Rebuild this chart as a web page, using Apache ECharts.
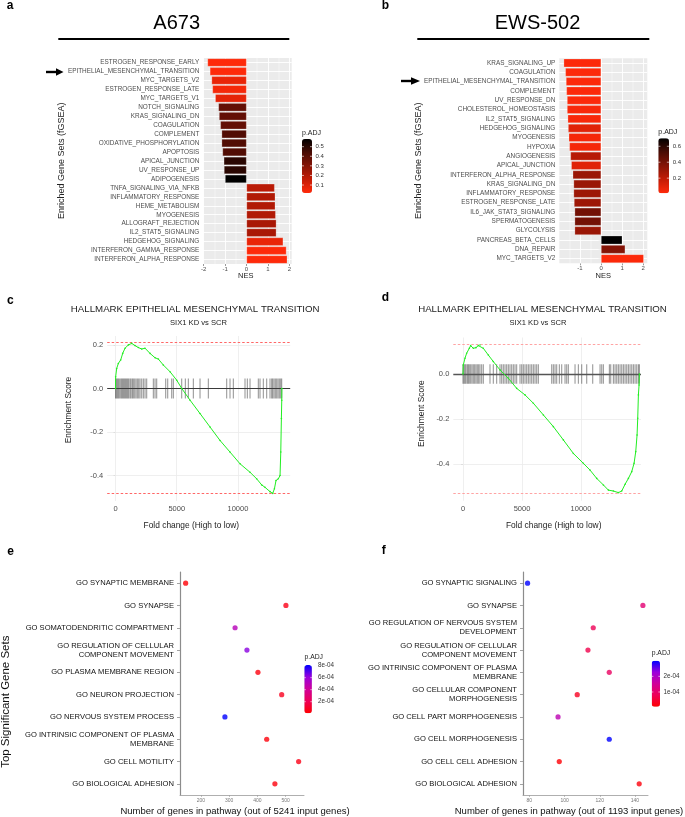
<!DOCTYPE html>
<html><head><meta charset="utf-8">
<script src="https://cdn.jsdelivr.net/npm/echarts@6/dist/echarts.min.js"></script>
<style>html,body{margin:0;padding:0;background:#fff}#chart{width:685px;height:817px}</style>
</head><body><div id="chart"></div>
<script>
// ---------- DATA ----------
const aCategories = ['ESTROGEN_RESPONSE_EARLY','EPITHELIAL_MESENCHYMAL_TRANSITION','MYC_TARGETS_V2','ESTROGEN_RESPONSE_LATE','MYC_TARGETS_V1','NOTCH_SIGNALING','KRAS_SIGNALING_DN','COAGULATION','COMPLEMENT','OXIDATIVE_PHOSPHORYLATION','APOPTOSIS','APICAL_JUNCTION','UV_RESPONSE_UP','ADIPOGENESIS','TNFA_SIGNALING_VIA_NFKB','INFLAMMATORY_RESPONSE','HEME_METABOLISM','MYOGENESIS','ALLOGRAFT_REJECTION','IL2_STAT5_SIGNALING','HEDGEHOG_SIGNALING','INTERFERON_GAMMA_RESPONSE','INTERFERON_ALPHA_RESPONSE'];
const aNES = [-1.82,-1.71,-1.63,-1.59,-1.46,-1.31,-1.28,-1.22,-1.16,-1.16,-1.12,-1.06,-1.05,-1.00,1.31,1.34,1.34,1.36,1.39,1.39,1.71,1.86,1.90];
const aPadj = [0.02,0.02,0.07,0.04,0.08,0.38,0.38,0.38,0.42,0.42,0.42,0.50,0.50,0.58,0.18,0.20,0.20,0.20,0.22,0.22,0.07,0.02,0.02];
const aTicks = [-2,-1,0,1,2];
const aMinor = [-1.5,-0.5,0.5,1.5];
const aLegendTicks = [0.1,0.2,0.3,0.4,0.5];

const bCategories = ['KRAS_SIGNALING_UP','COAGULATION','EPITHELIAL_MESENCHYMAL_TRANSITION','COMPLEMENT','UV_RESPONSE_DN','CHOLESTEROL_HOMEOSTASIS','IL2_STAT5_SIGNALING','HEDGEHOG_SIGNALING','MYOGENESIS','HYPOXIA','ANGIOGENESIS','APICAL_JUNCTION','INTERFERON_ALPHA_RESPONSE','KRAS_SIGNALING_DN','INFLAMMATORY_RESPONSE','ESTROGEN_RESPONSE_LATE','IL6_JAK_STAT3_SIGNALING','SPERMATOGENESIS','GLYCOLYSIS','PANCREAS_BETA_CELLS','DNA_REPAIR','MYC_TARGETS_V2'];
const bNES = [-1.77,-1.69,-1.66,-1.64,-1.61,-1.61,-1.58,-1.56,-1.53,-1.50,-1.45,-1.41,-1.34,-1.30,-1.30,-1.28,-1.25,-1.25,-1.25,1.00,1.14,2.02];
const bPadj = [0.02,0.02,0.02,0.02,0.02,0.03,0.03,0.10,0.04,0.04,0.22,0.10,0.30,0.30,0.29,0.29,0.41,0.41,0.30,0.70,0.36,0.02];
const bTicks = [-1,0,1,2];
const bMinor = [-1.5,-0.5,0.5,1.5];
const bLegendTicks = [0.2,0.4,0.6];

const cRank = [0,10,96,230,423,585,776,1050,1320,1590,1865,2140,2410,2820,3230,3500,3900,4450,5000,5410,6090,6900,7720,8540,9350,10170,10990,11530,11940,12210,12620,12840,12980,13110,13300,13440,13500,13550,13580,13590];
const cES = [0,0.054,0.092,0.115,0.131,0.161,0.185,0.200,0.207,0.197,0.188,0.181,0.185,0.161,0.141,0.135,0.108,0.077,0.038,0,-0.054,-0.115,-0.177,-0.239,-0.292,-0.346,-0.385,-0.415,-0.443,-0.454,-0.474,-0.482,-0.461,-0.423,-0.415,-0.400,-0.292,-0.138,-0.054,0];
const cHits = [0,68,150,232,313,422,504,585,667,749,830,912,994,1076,1185,1266,1375,1457,1566,1675,1784,1893,2002,2138,2274,2410,2546,3090,3227,3363,4098,4262,4588,4725,5405,5705,5950,6358,6903,7583,9081,9353,9625,10578,10769,10987,11667,11804,12076,12348,12620,12756,12838,12947,13056,13165,13274,13383,13492,13574];
const cMaxES = 0.207, cMinES = -0.482;
const cXTicks = [0,5000,10000];
const cYTicks = [-0.4,-0.2,0,0.2];

const dRank = [0,28,170,311,537,650,876,1102,1300,1441,1723,2147,2571,3136,3842,4548,5255,5961,6808,7656,8503,9351,10198,10763,11328,11893,12317,12741,13164,13447,13730,14012,14295,14492,14634,14747,14803,14860,14916,14945];
const dES = [0,0.040,0.070,0.092,0.114,0.126,0.114,0.117,0.126,0.129,0.114,0.084,0.055,0.018,-0.019,-0.064,-0.093,-0.130,-0.182,-0.234,-0.293,-0.353,-0.397,-0.427,-0.464,-0.493,-0.516,-0.520,-0.527,-0.520,-0.490,-0.464,-0.434,-0.397,-0.345,-0.271,-0.197,-0.093,-0.049,0];
const dHits = [0,85,170,254,367,452,537,650,763,876,989,1102,1215,1328,1441,1582,1723,2288,2571,2853,3136,3277,3418,3560,3701,3842,3983,4125,4266,4407,4548,4831,4972,5113,5255,5396,5537,5678,5820,5961,6102,6243,6385,7515,7656,7797,7938,8164,8362,8644,8786,8927,9492,9775,10057,10481,10989,11611,11752,11893,12402,12515,12741,12882,13024,13164,13306,13447,13588,13730,13871,14012,14153,14295,14436,14577,14718,14860,14945];
const dMaxES = 0.129, dMinES = -0.530;
const dXTicks = [0,5000,10000];
const dYTicks = [-0.4,-0.2,0];

const eCategories = ['GO SYNAPTIC MEMBRANE','GO SYNAPSE','GO SOMATODENDRITIC COMPARTMENT','GO REGULATION OF CELLULAR\nCOMPONENT MOVEMENT','GO PLASMA MEMBRANE REGION','GO NEURON PROJECTION','GO NERVOUS SYSTEM PROCESS','GO INTRINSIC COMPONENT OF PLASMA\nMEMBRANE','GO CELL MOTILITY','GO BIOLOGICAL ADHESION'];
const eGenes = [146,501,321,363,402,486,285,433,546,462];
const ePadj = [2e-5,6e-5,5.0e-4,6.3e-4,4e-5,8e-5,8.1e-4,3e-5,6e-5,4e-5];
const eTicks = [200,300,400,500];
const eLegendTicks = [2e-4,4e-4,6e-4,8e-4];

const fCategories = ['GO SYNAPTIC SIGNALING','GO SYNAPSE','GO REGULATION OF NERVOUS SYSTEM\nDEVELOPMENT','GO REGULATION OF CELLULAR\nCOMPONENT MOVEMENT','GO INTRINSIC COMPONENT OF PLASMA\nMEMBRANE','GO CELLULAR COMPONENT\nMORPHOGENESIS','GO CELL PART MORPHOGENESIS','GO CELL MORPHOGENESIS','GO CELL CELL ADHESION','GO BIOLOGICAL ADHESION'];
const fGenes = [79,144.5,116.3,113.3,125.4,107.2,96.3,125.4,97,142.4];
const fPadj = [3e-4,1.1e-4,0.8e-4,0.7e-4,0.9e-4,0.35e-4,1.8e-4,3e-4,0.1e-4,0.15e-4];
const fTicks = [80,100,120,140];
const fLegendTicks = [1e-4,2e-4];

// ---------- STYLE ----------
const FONT = 'Liberation Sans, Arial, Helvetica, sans-serif';
const redBlack = ['#ff2a0a','#c41c06','#861406','#4a0c04','#000000'];
const redBlue = ['#ff0000','#ee0056','#d0009a','#9a00dc','#0000ff'];
const A = {min:0.017, max:0.58, left:302, top:139, w:10, h:54};
const B = {min:0.01, max:0.70, left:658.3, top:138.3, w:10.7, h:55};
const E = {min:7e-6, max:8.1e-4, left:304.3, top:665, w:7.6, h:48.3};
const F = {min:6e-6, max:3e-4, left:651.7, top:660.7, w:8.3, h:46};

const chart = echarts.init(document.getElementById('chart'), null, {renderer:'canvas'});

function barX(gi, min, max, ticks) {
  return {gridIndex:gi, type:'value', min:min, max:max,
    axisLine:{show:false},
    axisTick:{show:true, customValues:ticks, length:2, lineStyle:{color:'#333', width:0.5}},
    axisLabel:{customValues:ticks, fontSize:6, color:'#4d4d4d', margin:2, fontFamily:FONT},
    splitLine:{show:false}};
}
function barY(gi, cats) {
  return {gridIndex:gi, type:'category', data:cats, inverse:true,
    axisLine:{show:false},
    axisTick:{show:true, alignWithLabel:true, length:2.5, lineStyle:{color:'#333', width:0.5}},
    axisLabel:{interval:0, fontSize:6.4, color:'#4d4d4d', margin:4, fontFamily:FONT},
    splitLine:{show:false}};
}
function gseaX(gi, min, max, ticks) {
  return {gridIndex:gi, type:'value', min:min, max:max,
    axisLine:{show:false}, axisTick:{show:false, customValues:ticks},
    axisLabel:{customValues:ticks, fontSize:7.5, color:'#4d4d4d', margin:4, fontFamily:FONT, formatter:v=>String(v)},
    splitLine:{show:false}};
}
function gseaY(gi, min, max, ticks) {
  return {gridIndex:gi, type:'value', min:min, max:max,
    axisLine:{show:false}, axisTick:{show:true, customValues:ticks, length:2, lineStyle:{color:'#555', width:0.5}},
    axisLabel:{customValues:ticks, fontSize:7.5, color:'#4d4d4d', margin:4, fontFamily:FONT, formatter:v=>v.toFixed(1)},
    splitLine:{show:false}};
}
function dotX(gi, min, max, ticks) {
  return {gridIndex:gi, type:'value', min:min, max:max,
    axisLine:{show:true, lineStyle:{color:'#9a9a9a', width:0.8}},
    axisTick:{show:true, customValues:ticks, length:2, lineStyle:{color:'#9a9a9a', width:0.6}},
    axisLabel:{customValues:ticks, fontSize:5, color:'#777', margin:3, fontFamily:FONT, formatter:v=>String(v)},
    splitLine:{show:false}};
}
function dotY(gi, cats) {
  return {gridIndex:gi, type:'category', data:cats, inverse:true,
    axisLine:{show:true, lineStyle:{color:'#8c8c8c', width:1.2}},
    axisTick:{show:true, alignWithLabel:true, length:3, lineStyle:{color:'#8c8c8c', width:0.8}},
    axisLabel:{interval:0, fontSize:7.6, lineHeight:9, color:'#111', margin:6, fontFamily:FONT},
    splitLine:{show:false}};
}
function barGridLines(gi, cats, ticks, minor) {
  return {type:'line', xAxisIndex:gi, yAxisIndex:gi, data:[], silent:true, z:1,
    markLine:{silent:true, symbol:'none', z:1, label:{show:false}, animation:false,
      data: [].concat(
        ticks.map(v=>({xAxis:v, lineStyle:{color:'#fff', width:0.9, type:'solid'}})),
        minor.map(v=>({xAxis:v, lineStyle:{color:'#fff', width:0.45, type:'solid'}})),
        cats.map(c=>({yAxis:c, lineStyle:{color:'#fff', width:0.9, type:'solid'}}))
      )}};
}
function gseaGridLines(gi, xt, yt) {
  return {type:'line', xAxisIndex:gi, yAxisIndex:gi, data:[], silent:true, z:1,
    markLine:{silent:true, symbol:'none', z:1, label:{show:false}, animation:false,
      lineStyle:{color:'#ebebeb', width:0.8, type:'solid'},
      data: [].concat(xt.map(v=>({xAxis:v})), yt.map(v=>({yAxis:v})))}};
}
function hitSeries(gi, hits, half, zeroColor, zeroW) {
  return {type:'custom', xAxisIndex:gi, yAxisIndex:gi, silent:true, z:3,
    data: hits.map(h=>[h,0]), encode:{x:0, y:1},
    renderItem:(params, api)=>{
      const p1 = api.coord([api.value(0), half]);
      const p2 = api.coord([api.value(0), -half]);
      return {type:'line', shape:{x1:p1[0], y1:p1[1], x2:p2[0], y2:p2[1]},
        style:{stroke:'rgba(0,0,0,0.4)', lineWidth:1.1}};
    },
    markLine:{silent:true, symbol:'none', label:{show:false}, z:4,
      lineStyle:{color:zeroColor, width:zeroW, type:'solid'}, data:[{yAxis:0}]}};
}
function curveSeries(gi, xs, ys, maxES, minES, dashColor) {
  return {type:'line', xAxisIndex:gi, yAxisIndex:gi, z:5,
    data: xs.map((x,i)=>[x, ys[i]]),
    symbol:'circle', symbolSize:1.6, showSymbol:true,
    itemStyle:{color:'#22ee22'}, lineStyle:{color:'#22ee22', width:1},
    markLine:{silent:true, symbol:'none', label:{show:false},
      lineStyle:{color:dashColor, width:0.9, type:[2.5,2]}, data:[{yAxis:maxES},{yAxis:minES}]}};
}
function vmap(idx, cfg, colors) {
  return {type:'continuous', seriesIndex:idx, dimension:2, min:cfg.min, max:cfg.max,
    inRange:{color:colors}, left:cfg.left, top:cfg.top, itemWidth:cfg.w, itemHeight:cfg.h,
    calculable:false, hoverLink:false, padding:0, orient:'vertical', text:null, showLabel:false};
}
function legendGraphics(cfg, ticks, fmt, fs, lx) {
  const out = [];
  ticks.forEach(t=>{
    const y = cfg.top + (cfg.max - t)/(cfg.max - cfg.min)*cfg.h;
    out.push({type:'text', x:lx, y:y, z:100, style:{text:fmt(t), fontSize:fs, fontFamily:FONT, fill:'#333', align:'left', verticalAlign:'middle'}});
    out.push({type:'line', z:100, shape:{x1:cfg.left, y1:y, x2:cfg.left+cfg.w*0.2, y2:y}, style:{stroke:'#fff', lineWidth:0.6}});
    out.push({type:'line', z:100, shape:{x1:cfg.left+cfg.w*0.8, y1:y, x2:cfg.left+cfg.w, y2:y}, style:{stroke:'#fff', lineWidth:0.6}});
  });
  return out;
}
function txt(text, x, y, fs, opts) {
  opts = opts || {};
  return {type:'text', x:x, y:y, rotation:opts.rot||0, z:100,
    style:{text:text, fontSize:fs, fontFamily:FONT, fontWeight:opts.bold?'bold':'normal',
      fill:opts.fill||'#111', align:opts.align||'center', verticalAlign:'middle'}};
}
const expFmt = t => t.toExponential(0).replace(/e-(\d)$/, 'e-0$1');

const option = {
  animation:false,
  backgroundColor:'#fff',
  textStyle:{fontFamily:FONT},
  grid:[
    {left:203.3, top:58, width:88.4, height:206, show:true, backgroundColor:'#ebebeb', borderWidth:0, outerBoundsMode:'none'},
    {left:559.3, top:58.3, width:88, height:205, show:true, backgroundColor:'#ebebeb', borderWidth:0, outerBoundsMode:'none'},
    {left:107.2, top:336, width:183, height:165, outerBoundsMode:'none'},
    {left:453.3, top:337.5, width:187.7, height:163.2, outerBoundsMode:'none'},
    {left:180, top:572, width:124, height:223, outerBoundsMode:'none'},
    {left:523, top:572, width:125, height:223, outerBoundsMode:'none'}
  ],
  xAxis:[
    barX(0, -2.02, 2.11, aTicks),
    barX(1, -1.98, 2.19, bTicks),
    gseaX(2, -680, 14270, cXTicks),
    gseaX(3, -820, 15080, dXTicks),
    dotX(4, 126, 565, eTicks),
    dotX(5, 76.4, 147.4, fTicks)
  ],
  yAxis:[
    barY(0, aCategories),
    barY(1, bCategories),
    gseaY(2, -0.517, 0.241, cYTicks),
    gseaY(3, -0.563, 0.162, dYTicks),
    dotY(4, eCategories),
    dotY(5, fCategories)
  ],
  visualMap:[
    vmap(0, A, redBlack),
    vmap(1, B, redBlack),
    vmap(6, E, redBlue),
    vmap(7, F, redBlue)
  ],
  series:[
    {type:'bar', xAxisIndex:0, yAxisIndex:0, z:2, barWidth:'90%', encode:{x:0, y:1},
      data:aCategories.map((c,i)=>[aNES[i], c, aPadj[i]]),
      itemStyle:{borderColor:'rgba(255,255,255,0.6)', borderWidth:0.4}},
    {type:'bar', xAxisIndex:1, yAxisIndex:1, z:2, barWidth:'90%', encode:{x:0, y:1},
      data:bCategories.map((c,i)=>[bNES[i], c, bPadj[i]]),
      itemStyle:{borderColor:'rgba(255,255,255,0.6)', borderWidth:0.4}},
    curveSeries(2, cRank, cES, cMaxES, cMinES, '#ff5555'),
    hitSeries(2, cHits, 0.046, '#3a3a3a', 1),
    curveSeries(3, dRank, dES, dMaxES, dMinES, '#ff9999'),
    hitSeries(3, dHits, 0.043, '#555555', 1.3),
    {type:'scatter', xAxisIndex:4, yAxisIndex:4, symbolSize:5.2, encode:{x:0, y:1},
      data:eCategories.map((c,i)=>[eGenes[i], c, ePadj[i]])},
    {type:'scatter', xAxisIndex:5, yAxisIndex:5, symbolSize:5.2, encode:{x:0, y:1},
      data:fCategories.map((c,i)=>[fGenes[i], c, fPadj[i]])},
    barGridLines(0, aCategories, aTicks, aMinor),
    barGridLines(1, bCategories, bTicks, bMinor),
    gseaGridLines(2, cXTicks, cYTicks),
    gseaGridLines(3, dXTicks, dYTicks)
  ],
  graphic:{elements:[].concat(
    [
      txt('a', 10, 6, 12, {bold:true, fill:'#000'}),
      txt('b', 385.5, 5.5, 12, {bold:true, fill:'#000'}),
      txt('c', 10.3, 301, 12, {bold:true, fill:'#000'}),
      txt('d', 385.5, 297.5, 12, {bold:true, fill:'#000'}),
      txt('e', 10.7, 551.5, 12, {bold:true, fill:'#000'}),
      txt('f', 383.7, 550.5, 12, {bold:true, fill:'#000'}),
      txt('A673', 176.7, 23, 20, {fill:'#000'}),
      txt('EWS-502', 537.5, 23, 20, {fill:'#000'}),
      {type:'line', z:100, shape:{x1:58.3, y1:39, x2:289.3, y2:39}, style:{stroke:'#000', lineWidth:2}},
      {type:'line', z:100, shape:{x1:417.3, y1:39, x2:649.3, y2:39}, style:{stroke:'#000', lineWidth:2}},
      {type:'line', z:100, shape:{x1:46, y1:72, x2:58, y2:72}, style:{stroke:'#000', lineWidth:2.4}},
      {type:'polygon', z:100, shape:{points:[[56,68.3],[63.5,72],[56,75.7]]}, style:{fill:'#000'}},
      {type:'line', z:100, shape:{x1:401, y1:81, x2:413, y2:81}, style:{stroke:'#000', lineWidth:2.4}},
      {type:'polygon', z:100, shape:{points:[[411,77.3],[420,81],[411,84.7]]}, style:{fill:'#000'}},
      txt('Enriched Gene Sets (fGSEA)', 61.7, 160.8, 9, {rot:Math.PI/2, fill:'#222'}),
      txt('Enriched Gene Sets (fGSEA)', 418.3, 160.8, 9, {rot:Math.PI/2, fill:'#222'}),
      txt('NES', 245.7, 276, 7.5, {fill:'#222'}),
      txt('NES', 603.3, 276, 7.5, {fill:'#222'}),
      txt('p.ADJ', 302, 132.7, 7, {align:'left', fill:'#222'}),
      txt('p.ADJ', 658.3, 131.7, 7, {align:'left', fill:'#222'}),
      txt('HALLMARK EPITHELIAL MESENCHYMAL TRANSITION', 195.2, 309.3, 9.7, {fill:'#222'}),
      txt('HALLMARK EPITHELIAL MESENCHYMAL TRANSITION', 542.5, 309.3, 9.7, {fill:'#222'}),
      txt('SIX1 KD vs SCR', 198.5, 323.3, 7.6, {fill:'#222'}),
      txt('SIX1 KD vs SCR', 538, 323.3, 7.6, {fill:'#222'}),
      txt('Enrichment Score', 68.3, 410, 8.4, {rot:Math.PI/2, fill:'#222'}),
      txt('Enrichment Score', 421.7, 413.7, 8.4, {rot:Math.PI/2, fill:'#222'}),
      txt('Fold change (High to low)', 191.3, 526, 8.4, {fill:'#222'}),
      txt('Fold change (High to low)', 553.7, 526, 8.4, {fill:'#222'}),
      txt('Top Significant Gene Sets', 5.5, 701.7, 11.5, {rot:Math.PI/2, fill:'#111'}),
      txt('Number of genes in pathway (out of 5241 input genes)', 235, 811.7, 9.5, {fill:'#111'}),
      txt('Number of genes in pathway (out of 1193 input genes)', 569, 811.7, 9.5, {fill:'#111'}),
      txt('p.ADJ', 304.5, 657.5, 6.8, {align:'left', fill:'#222'}),
      txt('p.ADJ', 651.7, 653.3, 6.8, {align:'left', fill:'#222'})
    ],
    legendGraphics(A, aLegendTicks, t=>t.toFixed(1), 6, 315.5),
    legendGraphics(B, bLegendTicks, t=>t.toFixed(1), 6, 672.7),
    legendGraphics(E, eLegendTicks, expFmt, 6.3, 318),
    legendGraphics(F, fLegendTicks, expFmt, 6.3, 663.5)
  )}
};
chart.setOption(option);
</script></body></html>
